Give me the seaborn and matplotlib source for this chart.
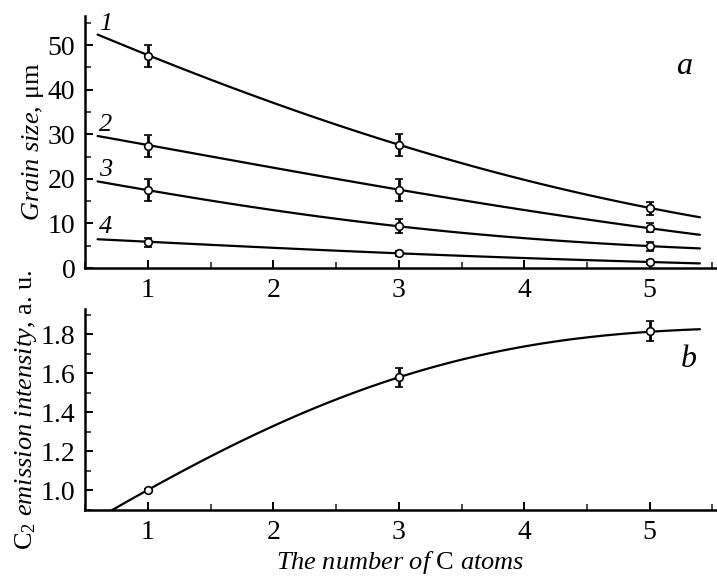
import matplotlib
matplotlib.use("Agg")
import matplotlib.pyplot as plt
import seaborn as sns
import pandas as pd
from matplotlib.ticker import MultipleLocator

# ---- data ----
x_pts = [1, 3, 5]
g1 = [47.6, 27.6, 13.4]; g1_err = [2.5, 2.5, 1.5]
g2 = [27.4, 17.5, 9.0];  g2_err = [2.5, 2.5, 1.0]
g3 = [17.5, 9.4, 4.9];   g3_err = [2.5, 1.5, 1.0]
g4 = [5.8, 3.3, 1.4];    g4_err = [1.0, 0.5, 0.5]

x_curve = [0.6, 1.0, 1.5, 2.0, 2.5, 3.0, 3.5, 4.0, 4.5, 5.0, 5.4]
c1 = [52.4, 47.6, 42.4, 37.0, 32.2, 27.6, 23.5, 19.8, 16.5, 13.4, 11.4]
c2 = [29.7, 27.4, 25.0, 22.7, 20.0, 17.5, 15.2, 13.0, 10.9, 9.0, 7.4]
c3 = [19.4, 17.5, 15.1, 13.0, 11.0, 9.4, 7.9, 6.7, 5.7, 4.9, 4.4]
c4 = [6.5, 5.8, 5.2, 4.6, 3.9, 3.3, 2.7, 2.2, 1.8, 1.4, 1.0]

b_pts = [1.0, 1.58, 1.817]; b_err = [0.01, 0.05, 0.05]
x_bcurve = [0.71, 1.0, 1.5, 2.0, 2.5, 3.0, 3.5, 4.0, 4.5, 5.0, 5.4]
b_curve = [0.9, 1.0, 1.171, 1.333, 1.47, 1.58, 1.667, 1.735, 1.786, 1.817, 1.824]

curve_labels = ["1", "2", "3", "4"]

# ---- style ----
sns.set_theme(style="ticks")
plt.rcParams['font.family'] = ['Liberation Serif', 'DejaVu Serif']
plt.rcParams['mathtext.fontset'] = 'custom'
plt.rcParams['mathtext.rm'] = 'Liberation Serif'
plt.rcParams['mathtext.it'] = 'Liberation Serif:italic'
plt.rcParams['mathtext.bf'] = 'Liberation Serif:bold'

fig = plt.figure(figsize=(7.17, 5.77), dpi=100)
ax1 = fig.add_axes([0.1186, 0.5355, 0.880, 0.4367])
ax2 = fig.add_axes([0.1186, 0.1161, 0.880, 0.3484])

lw = 1.6
TICK_FS = 20
LAB_FS = 19
for ax in (ax1, ax2):
    for s in ("top", "right"):
        ax.spines[s].set_visible(False)
    for s in ("left", "bottom"):
        ax.spines[s].set_linewidth(1.8)
        ax.spines[s].set_color("black")
    ax.xaxis.set_major_locator(MultipleLocator(1))
    ax.xaxis.set_minor_locator(MultipleLocator(0.5))
    ax.tick_params(which="major", direction="in", length=6, width=1.4,
                   labelsize=TICK_FS, colors="black", pad=7)
    ax.tick_params(which="minor", direction="in", length=4, width=1.2)
    ax.set_facecolor("white")


def smooth_line(ax, xs, ys):
    df = pd.DataFrame({"x": xs, "y": ys})
    sns.regplot(data=df, x="x", y="y", ax=ax, order=4, ci=None,
                scatter=False, truncate=True,
                line_kws=dict(color="black", lw=lw))


# top panel
curves = [c1, c2, c3, c4]
pts = [(g1, g1_err), (g2, g2_err), (g3, g3_err), (g4, g4_err)]
for cv, (yp, ye) in zip(curves, pts):
    smooth_line(ax1, x_curve, cv)
    ax1.errorbar(x_pts, yp, yerr=ye, fmt="o", ms=5.5, mfc="white",
                 mec="black", mew=1.2, ecolor="black", elinewidth=2.0,
                 capsize=3, capthick=2.0, zorder=5)

label_pos_y = [54.7, 32.1, 22.0, 9.2]
for lab, yy in zip(curve_labels, label_pos_y):
    ax1.text(0.665, yy, lab, fontsize=19, style="italic", ha="center",
             va="center", color="black")
ax1.text(5.27, 45.1, "a", fontsize=23, style="italic", ha="center",
         va="center", color="black")

ax1.set_ylim(0, 56.5)
ax1.yaxis.set_major_locator(MultipleLocator(10))
ax1.yaxis.set_minor_locator(MultipleLocator(5))
ax1.set_xlabel("")
ax1.set_ylabel(r"$\mathit{Grain\ size}$, μm", fontsize=LAB_FS, color="black",
               labelpad=1)

# bottom panel
smooth_line(ax2, x_bcurve, b_curve)
ax2.errorbar(x_pts, b_pts, yerr=b_err, fmt="o", ms=5.5, mfc="white",
             mec="black", mew=1.2, ecolor="black", elinewidth=2.0,
             capsize=3, capthick=2.0, zorder=5)
ax2.text(5.31, 1.672, "b", fontsize=23, style="italic", ha="center",
         va="center", color="black")
ax2.set_ylim(0.9, 1.93)
ax2.yaxis.set_major_locator(MultipleLocator(0.2))
ax2.yaxis.set_minor_locator(MultipleLocator(0.1))
ax2.yaxis.set_major_formatter(matplotlib.ticker.FormatStrFormatter("%.1f"))
ax2.set_ylabel(r"C$_2$ $\mathit{emission\ intensity}$, a. u.", fontsize=LAB_FS,
               color="black", labelpad=1)
ax2.set_xlabel(r"$\mathit{The\ number\ of}$ C $\mathit{atoms}$", fontsize=LAB_FS,
               color="black", labelpad=3)

for ax in (ax1, ax2):
    ax.set_xlim(0.5, 5.528)

fig.savefig("out.png", dpi=100, facecolor="white")
